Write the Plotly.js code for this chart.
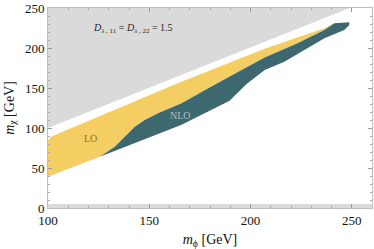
<!DOCTYPE html>
<html><head><meta charset="utf-8">
<script src="https://cdn.plot.ly/plotly-3.0.1.min.js"></script>
<style>html,body{margin:0;padding:0;background:#fff}#c{width:374px;height:249px}</style>
</head><body><div id="c"></div>
<script>
// Excluded region (m_chi > m_phi)
const grayX = [100, 100, 249, 100];
const grayY = [100, 250, 250, 100];
// Bottom excluded strip
const stripX = [100, 260, 260, 100, 100];
const stripY = [0, 0, 5, 5, 0];
// LO allowed region
const loX = [100, 100, 101.5, 104, 165, 207, 236.5, 241.4, 236.5, 223.2, 207, 194.6, 179.8, 166, 154.3, 147.8, 142.9, 133, 125.6, 100];
const loY = [39, 84, 89, 92, 157, 199, 224.6, 230.9, 222.5, 205.9, 188, 170.5, 150.7, 131, 118.4, 110, 101.6, 76.6, 64.1, 39];
// NLO allowed region
const nloX = [125.6, 133, 142.9, 147.8, 154.3, 166, 179.8, 194.6, 207, 223.2, 236.5, 241.4, 248.8, 248.8, 246.3, 236.5, 226.6, 216.7, 207, 197.9, 189.7, 179.8, 166, 125.6];
const nloY = [64.1, 76.6, 101.6, 110, 118.4, 131, 150.7, 170.5, 188, 205.9, 222.5, 230.9, 232.1, 228.75, 222.5, 212.1, 197.5, 182.9, 172.5, 154.6, 134.1, 121.5, 104, 64.1];

const serif = "Liberation Serif, Times New Roman, serif";
const traces = [
  {x: grayX, y: grayY, fill: 'toself', fillcolor: '#dadada', line: {width: 0}, mode: 'lines', hoverinfo: 'skip'},
  {x: stripX, y: stripY, fill: 'toself', fillcolor: '#dadada', line: {width: 0}, mode: 'lines', hoverinfo: 'skip'},
  {x: loX, y: loY, fill: 'toself', fillcolor: '#f4ce62', line: {width: 0}, mode: 'lines', hoverinfo: 'skip'},
  {x: nloX, y: nloY, fill: 'toself', fillcolor: '#3e6870', line: {width: 0}, mode: 'lines', hoverinfo: 'skip'}
];
const axisCommon = {
  showgrid: false, zeroline: false, showline: true, linecolor: '#bdbdbd', linewidth: 1,
  mirror: 'allticks', ticks: 'inside', ticklen: 4, tickcolor: '#999', tickwidth: 1,
  tickfont: {family: serif, size: 13, color: '#111'},
  minor: {dtick: 10, ticks: 'inside', ticklen: 2, tickcolor: '#aaa', showgrid: false}
};
const layout = {
  width: 374, height: 249,
  margin: {l: 48, r: 2, t: 8, b: 41},
  paper_bgcolor: '#fff', plot_bgcolor: '#fff',
  showlegend: false,
  xaxis: Object.assign({}, axisCommon, {range: [100, 260], tickvals: [100, 150, 200, 250],
    title: {text: '<i>m</i><sub>ϕ</sub> [GeV]', font: {family: serif, size: 14, color: '#111'}, standoff: 7}}),
  yaxis: Object.assign({}, axisCommon, {range: [0, 250], tickvals: [0, 50, 100, 150, 200, 250],
    title: {text: '<i>m</i><sub>χ</sub> [GeV]', font: {family: serif, size: 14, color: '#111'}, standoff: 7}}),
  annotations: [
    {x: 0.132, y: 0.895, xref: 'paper', yref: 'paper', xanchor: 'left', yanchor: 'middle', showarrow: false,
     text: '<i>D</i><sub><i>λ</i> , 11</sub> = <i>D</i><sub><i>λ</i> , 22</sub> = 1.5',
     font: {family: serif, size: 10, color: '#222'}},
    {x: 121, y: 87, xref: 'x', yref: 'y', showarrow: false, text: 'LO',
     font: {family: serif, size: 10, color: '#8a7436'}},
    {x: 165.5, y: 116, xref: 'x', yref: 'y', showarrow: false, text: 'NLO',
     font: {family: serif, size: 10, color: '#a9bec2'}}
  ]
};
Plotly.newPlot('c', traces, layout, {staticPlot: true, displayModeBar: false});
</script></body></html>
